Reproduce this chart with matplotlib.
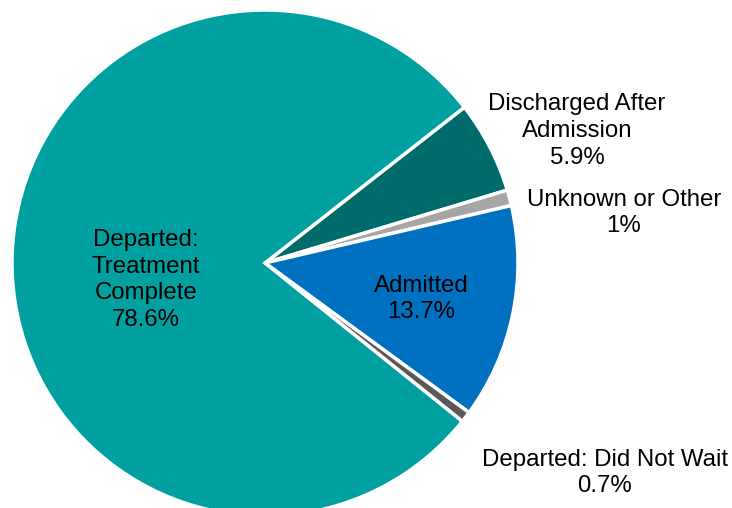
import matplotlib.pyplot as plt

# ED disposition shares, in clockwise order from the top right
labels = ['Discharged After\nAdmission', 'Unknown or Other', 'Admitted',
          'Departed: Did Not Wait', 'Departed:\nTreatment\nComplete']
shares = [5.9, 1, 13.7, 0.7, 78.6]
colors = ['#006B6B', '#A6A6A6', '#0070C0', '#595959', '#00A0A0']

# where each label sits (pixels from top left)
label_pos = [(577, 131), (624, 213), (421, 299), (605, 473), (146, 280)]

W, H = 732, 508

fig = plt.figure(figsize=(W / 100, H / 100), dpi=100)
ax = fig.add_axes([0, 0, 1, 1])

ax.pie(shares, colors=colors, startangle=38, counterclock=False,
       center=(265, H - 263), radius=253,
       wedgeprops=dict(edgecolor='white', linewidth=2.5))
ax.set_xlim(0, W)
ax.set_ylim(0, H)
ax.axis('off')

for lab, val, (x, y) in zip(labels, shares, label_pos):
    txt = lab + '\n' + ('%g%%' % val)
    ax.text(x, H - y, txt, ha='center', va='center', multialignment='center',
            fontsize=17.3, linespacing=1.28, family='Liberation Sans',
            color='black')

fig.savefig('out.png', dpi=100)
